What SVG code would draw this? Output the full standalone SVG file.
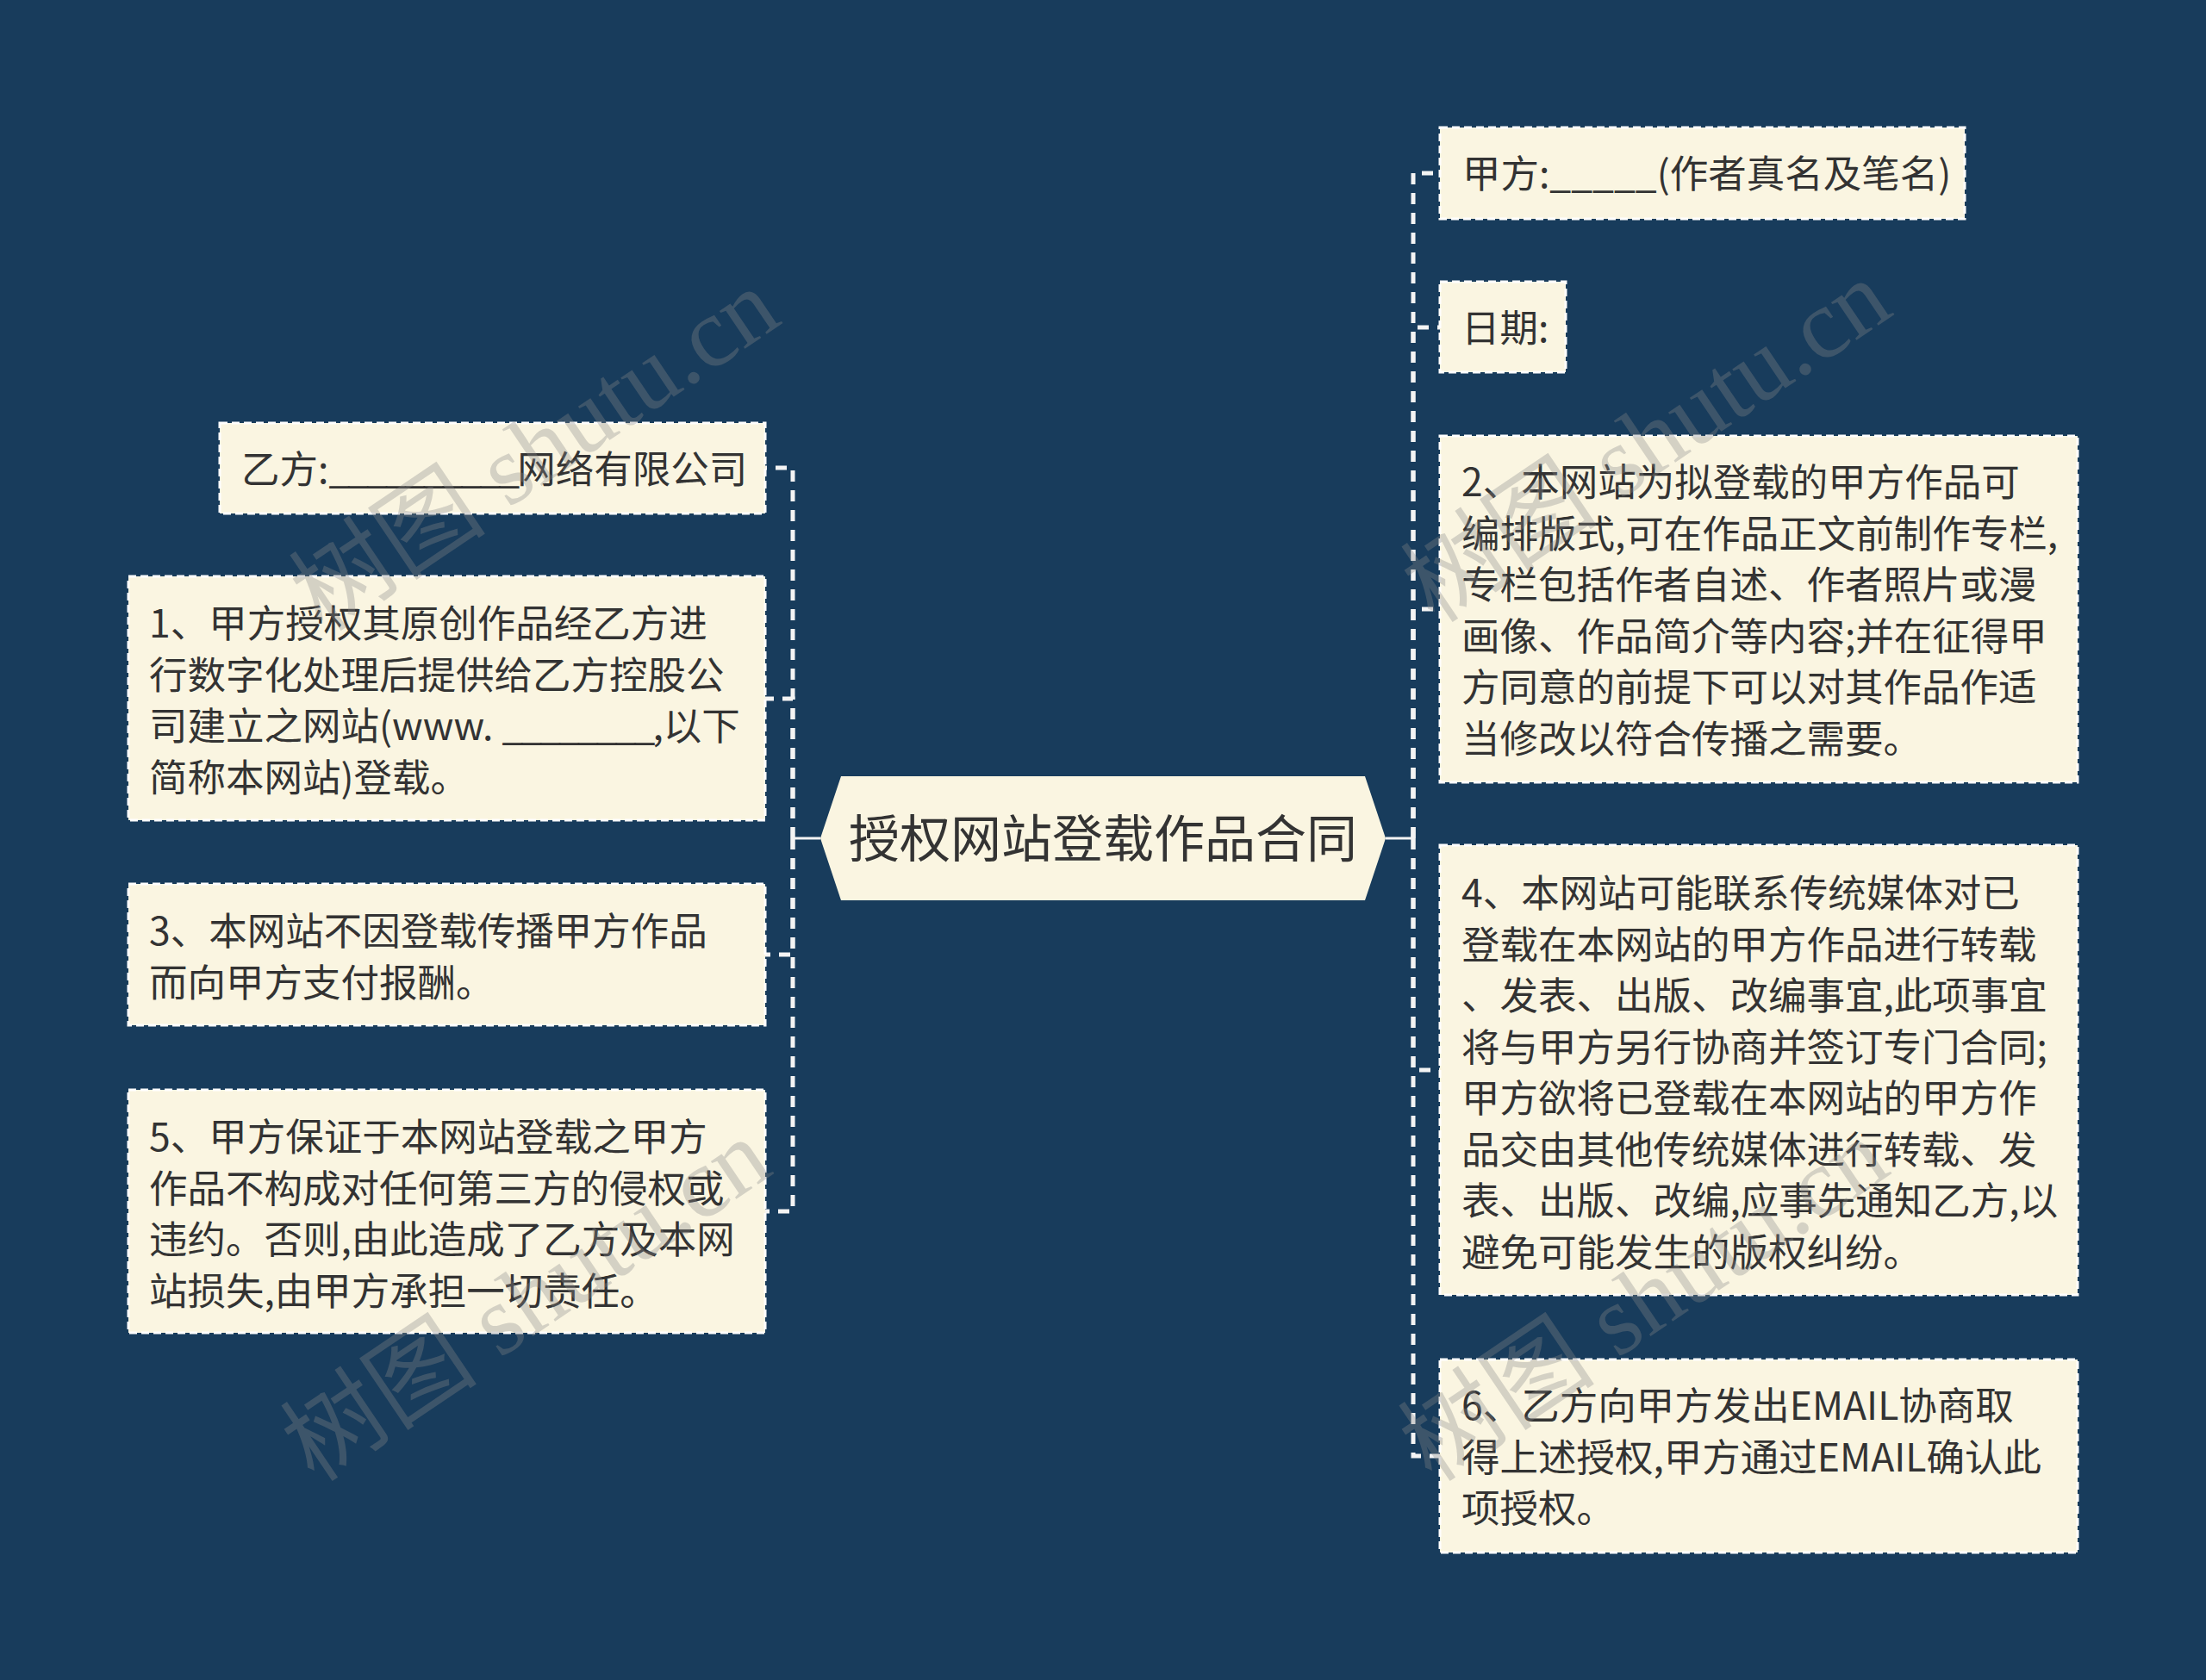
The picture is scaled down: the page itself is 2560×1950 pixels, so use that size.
<svg xmlns="http://www.w3.org/2000/svg" width="2560" height="1950" viewBox="0 0 2560 1950">
<style>
.bg{fill:#183c5c}
.box{fill:#faf5e1;stroke:#ffffff;stroke-width:3;stroke-dasharray:9 5}
.hex{fill:#faf5e1}
.t{font-family:"Noto Sans CJK SC","Noto Sans",sans-serif;font-size:44.5px;fill:#333333}
.us{letter-spacing:-3px}
.title{font-family:"Noto Sans CJK SC","Noto Sans",sans-serif;font-size:59px;fill:#333333;text-anchor:middle}
.trunk{fill:none;stroke:#f4f4f4;stroke-width:3}
.conn{fill:none;stroke:#f4f4f4;stroke-width:5;stroke-dasharray:13 10;stroke-linejoin:miter}
.wm{font-family:"Liberation Serif","Noto Sans CJK SC",serif;font-size:115px;fill:#8a8a8a;fill-opacity:0.33}
</style>
<rect class="bg" x="0" y="0" width="2560" height="1950"/>

<g id="connectors">
  <path class="trunk" d="M952 973 H920"/>
  <path class="trunk" d="M1608 973 H1640"/>
  <path class="conn" d="M920 973 V543 H888"/>
  <path class="conn" d="M920 973 V811 H888"/>
  <path class="conn" d="M920 973 V1108 H888"/>
  <path class="conn" d="M920 973 V1406 H888"/>
  <path class="conn" d="M1640 973 V201 H1671"/>
  <path class="conn" d="M1640 973 V380 H1671"/>
  <path class="conn" d="M1640 973 V707 H1671"/>
  <path class="conn" d="M1640 973 V1242 H1671"/>
  <path class="conn" d="M1640 973 V1690 H1671"/>
</g>

<g id="root">
  <polygon class="hex" points="952,973 976,901 1584,901 1608,973 1584,1045 976,1045"/>
  <text class="title" x="1280" y="995">授权网站登载作品合同</text>
</g>

<g id="node-yifang">
  <rect class="box" x="255" y="491" width="633" height="105"/>
  <text class="t" x="280" y="561">乙方:<tspan class="us">__________</tspan>网络有限公司</text>
</g>

<g id="node-1">
  <rect class="box" x="149" y="669" width="739" height="283"/>
  <text class="t"><tspan x="173" y="740">1、甲方授权其原创作品经乙方进</tspan><tspan x="173" y="799.5">行数字化处理后提供给乙方控股公</tspan><tspan x="173" y="859">司建立之网站(www. <tspan class="us">________</tspan>,以下</tspan><tspan x="173" y="918.5">简称本网站)登载。</tspan></text>
</g>

<g id="node-3">
  <rect class="box" x="149" y="1026" width="739" height="164"/>
  <text class="t"><tspan x="173" y="1097">3、本网站不因登载传播甲方作品</tspan><tspan x="173" y="1156.5">而向甲方支付报酬。</tspan></text>
</g>

<g id="node-5">
  <rect class="box" x="149" y="1265" width="739" height="282"/>
  <text class="t"><tspan x="173" y="1336">5、甲方保证于本网站登载之甲方</tspan><tspan x="173" y="1395.5">作品不构成对任何第三方的侵权或</tspan><tspan x="173" y="1455">违约。否则,由此造成了乙方及本网</tspan><tspan x="173" y="1514.5">站损失,由甲方承担一切责任。</tspan></text>
</g>

<g id="node-jiafang">
  <rect class="box" x="1671" y="148" width="609" height="106"/>
  <text class="t" x="1697" y="218">甲方:_____(作者真名及笔名)</text>
</g>

<g id="node-date">
  <rect class="box" x="1671" y="327" width="146" height="105"/>
  <text class="t" x="1696" y="397">日期:</text>
</g>

<g id="node-2">
  <rect class="box" x="1671" y="506" width="740" height="402"/>
  <text class="t"><tspan x="1696" y="576">2、本网站为拟登载的甲方作品可</tspan><tspan x="1696" y="635.5">编排版式,可在作品正文前制作专栏,</tspan><tspan x="1696" y="695">专栏包括作者自述、作者照片或漫</tspan><tspan x="1696" y="754.5">画像、作品简介等内容;并在征得甲</tspan><tspan x="1696" y="814">方同意的前提下可以对其作品作适</tspan><tspan x="1696" y="873.5">当修改以符合传播之需要。</tspan></text>
</g>

<g id="node-4">
  <rect class="box" x="1671" y="981" width="740" height="522"/>
  <text class="t"><tspan x="1696" y="1053">4、本网站可能联系传统媒体对已</tspan><tspan x="1696" y="1112.5">登载在本网站的甲方作品进行转载</tspan><tspan x="1696" y="1172">、发表、出版、改编事宜,此项事宜</tspan><tspan x="1696" y="1231.5">将与甲方另行协商并签订专门合同;</tspan><tspan x="1696" y="1291">甲方欲将已登载在本网站的甲方作</tspan><tspan x="1696" y="1350.5">品交由其他传统媒体进行转载、发</tspan><tspan x="1696" y="1410">表、出版、改编,应事先通知乙方,以</tspan><tspan x="1696" y="1469.5">避免可能发生的版权纠纷。</tspan></text>
</g>

<g id="node-6">
  <rect class="box" x="1671" y="1578" width="740" height="224"/>
  <text class="t"><tspan x="1696" y="1648">6、乙方向甲方发出EMAIL协商取</tspan><tspan x="1696" y="1707.5">得上述授权,甲方通过EMAIL确认此</tspan><tspan x="1696" y="1767">项授权。</tspan></text>
</g>

<g id="watermarks">
  <text class="wm" transform="translate(375,735) rotate(-34)">树图 shutu.cn</text>
  <text class="wm" transform="translate(1665,725) rotate(-34)">树图 shutu.cn</text>
  <text class="wm" transform="translate(365,1722) rotate(-34)">树图 shutu.cn</text>
  <text class="wm" transform="translate(1662,1722) rotate(-34)">树图 shutu.cn</text>
</g>
</svg>
